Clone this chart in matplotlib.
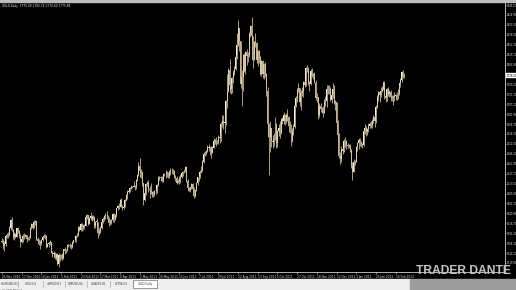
import matplotlib
matplotlib.use("Agg")
import matplotlib.pyplot as plt
from matplotlib.patches import Rectangle
import numpy as np

# ---------------- data (GOLD, Daily) ----------------
first_open = 1372
closes = (
    [1374, 1362, 1366, 1386] +
    [1389, 1388, 1406, 1424, 1401, 1384, 1391, 1384, 1404, 1398, 1386, 1370, 1378, 1385, 1385, 1387, 1379, 1380, 1381, 1405, 1415, 1406, 1421] +
    [1422, 1379, 1373, 1370, 1369, 1375, 1384, 1386, 1386, 1360, 1365, 1369, 1371, 1345, 1342, 1344, 1331, 1342, 1318, 1340, 1333] +
    [1339, 1331, 1353, 1348, 1350, 1364, 1364, 1362, 1360, 1372, 1375, 1375, 1386, 1388, 1407, 1400, 1416, 1408, 1410, 1411] +
    [1433, 1437, 1416, 1430, 1435, 1428, 1432, 1411, 1421, 1421, 1393, 1397, 1404, 1419, 1426, 1434, 1437, 1438, 1428, 1418, 1422, 1424, 1439] +
    [1428, 1437, 1453, 1458, 1457, 1474, 1459, 1454, 1457, 1473, 1486, 1493, 1496, 1503, 1504, 1504, 1507, 1505, 1522, 1535, 1556] +
    [1545, 1539, 1514, 1474, 1491, 1513, 1516, 1501, 1499, 1492, 1489, 1488, 1496, 1495, 1511, 1528, 1529, 1526, 1521, 1536, 1537, 1536] +
    [1539, 1533, 1542, 1544, 1544, 1543, 1530, 1528, 1516, 1521, 1528, 1530, 1539, 1542, 1547, 1553, 1521, 1502, 1497, 1504, 1512, 1500] +
    [1484, 1497, 1516, 1529, 1530, 1542, 1545, 1565, 1585, 1589, 1593, 1602, 1601, 1602, 1587, 1601, 1617, 1620, 1614, 1615, 1628] +
    [1625, 1660, 1667, 1662, 1662, 1716, 1740, 1790, 1755, 1745, 1770, 1785, 1793, 1823, 1852, 1892, 1862, 1757, 1773, 1827, 1789, 1835, 1826] +
    [1827, 1880, 1898, 1874, 1816, 1860, 1856, 1816, 1838, 1822, 1780, 1812, 1782, 1805, 1780, 1740, 1660, 1628, 1650, 1617, 1616, 1622] +
    [1658, 1612, 1642, 1650, 1636, 1672, 1665, 1680, 1667, 1682, 1675, 1653, 1655, 1618, 1642, 1652, 1702, 1722, 1742, 1746, 1712] +
    [1735, 1739, 1761, 1754, 1795, 1794, 1758, 1757, 1789, 1778, 1781, 1760, 1722, 1724, 1680, 1702, 1695, 1696, 1686, 1712, 1714, 1745] +
    [1744, 1744, 1718, 1730, 1745, 1711, 1713, 1662, 1633, 1580, 1573, 1597, 1594, 1617, 1618, 1607, 1606, 1604, 1595, 1556, 1541, 1566] +
    [1565, 1602, 1612, 1620, 1616, 1609, 1608, 1642, 1648, 1640, 1646, 1655, 1660, 1657, 1667, 1677, 1665, 1700, 1725, 1736, 1730, 1740] +
    [1745, 1760, 1726, 1722, 1745, 1732, 1738, 1725, 1722, 1724, 1728, 1728, 1725, 1735, 1758, 1766, 1786, 1775, 1776]
)
highs = (
    [1380, 1378, 1374, 1389] +
    [1394, 1395, 1409, 1427, 1432, 1403, 1396, 1394, 1406, 1407, 1400, 1390, 1382, 1390, 1392, 1391, 1388, 1382, 1386, 1408, 1418, 1417, 1424] +
    [1424, 1423, 1384, 1378, 1375, 1378, 1386, 1390, 1391, 1388, 1368, 1372, 1375, 1371, 1350, 1348, 1347, 1345, 1344, 1345, 1342] +
    [1342, 1343, 1355, 1358, 1353, 1366, 1367, 1368, 1365, 1374, 1377, 1378, 1389, 1392, 1411, 1410, 1418, 1417, 1414, 1415] +
    [1436, 1440, 1438, 1431, 1444, 1437, 1436, 1434, 1423, 1429, 1421, 1405, 1411, 1422, 1431, 1436, 1442, 1447, 1438, 1432, 1426, 1427, 1441] +
    [1442, 1440, 1455, 1462, 1465, 1476, 1478, 1462, 1460, 1475, 1487, 1497, 1499, 1506, 1510, 1507, 1519, 1510, 1525, 1537, 1565] +
    [1577, 1549, 1543, 1516, 1510, 1515, 1519, 1522, 1508, 1514, 1496, 1495, 1499, 1500, 1513, 1531, 1531, 1533, 1531, 1538, 1540, 1547] +
    [1544, 1542, 1547, 1552, 1551, 1549, 1546, 1535, 1531, 1525, 1531, 1536, 1542, 1545, 1549, 1555, 1557, 1525, 1506, 1505, 1514, 1516] +
    [1505, 1497, 1518, 1530, 1535, 1547, 1557, 1570, 1590, 1594, 1595, 1608, 1610, 1605, 1604, 1605, 1625, 1623, 1626, 1621, 1632] +
    [1640, 1664, 1682, 1682, 1683, 1718, 1782, 1795, 1817, 1760, 1774, 1790, 1800, 1830, 1880, 1913, 1894, 1862, 1790, 1830, 1832, 1838, 1841] +
    [1834, 1883, 1900, 1921, 1874, 1862, 1880, 1858, 1840, 1840, 1826, 1815, 1815, 1808, 1810, 1783, 1748, 1661, 1666, 1650, 1633, 1636] +
    [1676, 1661, 1645, 1660, 1666, 1674, 1677, 1688, 1683, 1686, 1695, 1678, 1665, 1658, 1648, 1660, 1705, 1726, 1747, 1760, 1746] +
    [1742, 1748, 1764, 1767, 1797, 1803, 1798, 1765, 1792, 1795, 1784, 1785, 1766, 1735, 1721, 1710, 1710, 1700, 1702, 1720, 1726, 1753] +
    [1754, 1753, 1750, 1733, 1760, 1755, 1717, 1713, 1669, 1638, 1590, 1604, 1604, 1622, 1627, 1619, 1613, 1610, 1609, 1598, 1565, 1574] +
    [1570, 1606, 1614, 1625, 1624, 1618, 1612, 1648, 1659, 1655, 1650, 1662, 1664, 1665, 1672, 1680, 1680, 1706, 1730, 1740, 1739, 1750] +
    [1752, 1764, 1763, 1727, 1747, 1750, 1743, 1742, 1730, 1729, 1737, 1732, 1738, 1744, 1760, 1770, 1788, 1790, 1783]
)
lows = (
    [1368, 1355, 1350, 1361] +
    [1380, 1381, 1385, 1404, 1398, 1379, 1377, 1380, 1383, 1392, 1381, 1360, 1368, 1372, 1378, 1382, 1372, 1377, 1375, 1380, 1402, 1403, 1405] +
    [1412, 1376, 1365, 1364, 1354, 1363, 1373, 1380, 1378, 1356, 1360, 1360, 1363, 1343, 1335, 1338, 1330, 1328, 1316, 1309, 1325] +
    [1329, 1327, 1330, 1342, 1343, 1348, 1358, 1357, 1355, 1356, 1368, 1371, 1371, 1382, 1386, 1397, 1398, 1399, 1401, 1403] +
    [1409, 1428, 1413, 1414, 1424, 1422, 1424, 1404, 1404, 1412, 1381, 1388, 1392, 1403, 1417, 1423, 1427, 1434, 1424, 1411, 1412, 1416, 1420] +
    [1420, 1425, 1432, 1449, 1451, 1456, 1456, 1450, 1451, 1456, 1471, 1475, 1490, 1493, 1500, 1502, 1505, 1499, 1501, 1519, 1532] +
    [1530, 1528, 1507, 1462, 1472, 1486, 1508, 1494, 1478, 1488, 1480, 1480, 1484, 1489, 1490, 1508, 1522, 1521, 1517, 1517, 1533, 1528] +
    [1529, 1526, 1528, 1535, 1537, 1536, 1527, 1521, 1512, 1514, 1513, 1516, 1526, 1531, 1540, 1542, 1518, 1496, 1495, 1493, 1500, 1496] +
    [1478, 1482, 1496, 1511, 1521, 1527, 1540, 1545, 1563, 1580, 1583, 1590, 1594, 1584, 1575, 1587, 1600, 1611, 1606, 1611, 1609] +
    [1612, 1618, 1651, 1647, 1637, 1656, 1699, 1736, 1735, 1731, 1734, 1758, 1778, 1791, 1818, 1850, 1838, 1746, 1702, 1740, 1785, 1780, 1802] +
    [1811, 1823, 1870, 1860, 1796, 1815, 1847, 1807, 1800, 1808, 1778, 1776, 1770, 1768, 1774, 1727, 1626, 1535, 1590, 1602, 1601, 1605] +
    [1620, 1601, 1602, 1630, 1625, 1635, 1658, 1660, 1656, 1662, 1666, 1640, 1638, 1604, 1614, 1633, 1650, 1700, 1712, 1736, 1702] +
    [1694, 1728, 1725, 1748, 1752, 1786, 1755, 1740, 1754, 1774, 1768, 1758, 1718, 1712, 1672, 1675, 1689, 1686, 1677, 1692, 1702, 1700] +
    [1731, 1732, 1716, 1709, 1722, 1708, 1692, 1652, 1629, 1575, 1562, 1567, 1585, 1590, 1603, 1598, 1600, 1600, 1590, 1552, 1523, 1541] +
    [1560, 1565, 1594, 1598, 1605, 1603, 1600, 1606, 1635, 1630, 1632, 1640, 1650, 1648, 1650, 1662, 1652, 1662, 1697, 1715, 1712, 1725] +
    [1737, 1741, 1720, 1712, 1714, 1727, 1725, 1715, 1714, 1706, 1715, 1717, 1717, 1720, 1730, 1750, 1761, 1771, 1770]
)
date_tick_bars = [0, 16, 32, 48, 64, 80, 96, 112, 128, 144, 160, 176, 192, 208,
                  224, 240, 256, 272, 288, 304, 320]
date_labels = ["25 Nov 2010", "17 Dec 2010", "10 Jan 2011", "1 Feb 2011", "23 Feb 2011",
               "17 Mar 2011", "8 Apr 2011", "2 May 2011", "24 May 2011", "15 Jun 2011",
               "7 Jul 2011", "29 Jul 2011", "22 Aug 2011", "13 Sep 2011", "5 Oct 2011",
               "27 Oct 2011", "18 Nov 2011", "12 Dec 2011", "3 Jan 2012", "25 Jan 2012",
               "16 Feb 2012"]
price_ticks = [1319.90, 1344.10, 1368.30, 1392.50, 1416.70, 1440.90, 1465.10, 1489.30,
               1513.50, 1537.70, 1561.90, 1586.10, 1610.30, 1634.50, 1658.70, 1682.90,
               1707.10, 1731.30, 1755.50, 1779.70, 1803.90, 1828.10, 1852.30, 1876.50,
               1900.70, 1924.90, 1949.10]
tab_names = ["#EURUSD,H1", "GOLD,H4", "#SP500,H1", "GBPUSD,H4", "#DAX30,H1", "#FTSE,H1", "GOLD,Daily"]
title_text = "GOLD,Daily  1775.09 1782.74 1770.40 1775.88"
watermark = "TRADER DANTE"

# ---------------- figure ----------------
W, H = 516, 290
fig = plt.figure(figsize=(W / 100, H / 100), dpi=100, facecolor="black")

def fx(px):
    return px / W

def fy(py):
    return 1 - py / H

ax = fig.add_axes([0, fy(272), fx(505), (272 - 3) / H])
ax.set_facecolor("black")

closes_a = np.array(closes, dtype=float)
highs_a = np.array(highs, dtype=float)
lows_a = np.array(lows, dtype=float)
opens_a = np.concatenate([[first_open], closes_a[:-1]])
x = np.arange(len(closes_a))

top = np.maximum(opens_a, closes_a)
bot = np.minimum(opens_a, closes_a)
hi = np.maximum(highs_a, top)
lo = np.minimum(lows_a, bot)
bull = closes_a >= opens_a

ax.vlines(x, lo, hi, colors="#d6c6a4", linewidth=0.55)
ax.bar(x[bull], np.maximum(top[bull] - bot[bull], 0.8), bottom=bot[bull], width=0.8,
       color="#f3efe3", linewidth=0)
ax.bar(x[~bull], np.maximum(top[~bull] - bot[~bull], 0.8), bottom=bot[~bull], width=0.8,
       color="#c9ad84", linewidth=0)

ax.set_xlim(-1.6, 409.0)
ax.set_ylim(1297.8, 1954.1)

for s in ["top", "left"]:
    ax.spines[s].set_visible(False)
ax.spines["right"].set_color("#d0d0d0")
ax.spines["bottom"].set_color("#d0d0d0")
ax.spines["right"].set_linewidth(0.6)
ax.spines["bottom"].set_linewidth(0.6)

ax.yaxis.tick_right()
ax.set_yticks(price_ticks)
ax.set_yticklabels([f"{v:.2f}" for v in price_ticks])
ax.tick_params(axis="y", colors="#e0e0e0", labelsize=1.8, length=0.8, width=0.4, pad=0.3)
ax.set_xticks(date_tick_bars)
ax.set_xticklabels(date_labels, ha="left")
ax.tick_params(axis="x", colors="#e0e0e0", labelsize=2.1, length=1.2, width=0.4, pad=0.8)

# current price marker on right axis
last = closes_a[-1]
ax.annotate(f"{last:.2f}", xy=(1.0, last), xycoords=("axes fraction", "data"),
            xytext=(0.9, 0), textcoords="offset points", fontsize=1.8, color="black",
            va="center", ha="left",
            bbox=dict(boxstyle="square,pad=0.2", fc="white", ec="white", lw=0.3),
            annotation_clip=False)

# title
fig.text(fx(2), fy(5.5), title_text, color="#e8e8e8", fontsize=2.1, va="center", ha="left")

# window top strip
fig.patches.append(Rectangle((0, fy(1.5)), 1, 1.5 / H, transform=fig.transFigure,
                             color="#bdbdbd", zorder=0))

# tab bar
fig.patches.append(Rectangle((0, 0), fx(410), (H - 279) / H, transform=fig.transFigure,
                             color="#eeeeee", zorder=1))
fig.patches.append(Rectangle((fx(410), 0), 1 - fx(410), (H - 279) / H, transform=fig.transFigure,
                             color="#9c9c9c", zorder=1))
tab_edges = [2, 18, 43, 65, 87, 110, 133, 157]
for i, name in enumerate(tab_names):
    x0, x1 = tab_edges[i], tab_edges[i + 1]
    active = (i == len(tab_names) - 1)
    if active:
        fig.patches.append(Rectangle((fx(x0), fy(287.5)), fx(x1 - x0), 7.5 / H,
                                     transform=fig.transFigure, fc="white", ec="#555555",
                                     lw=0.4, zorder=2))
    else:
        fig.add_artist(plt.Line2D([fx(x1), fx(x1)], [fy(286.5), fy(281)],
                                  transform=fig.transFigure, color="#9a9a9a", lw=0.4, zorder=2))
    fig.text(fx((x0 + x1) / 2), fy(283.8), name, fontsize=1.9, color="#333333",
             ha="center", va="center", zorder=3)
fig.text(fx(2), fy(289.3), "For Help, press F1", fontsize=1.6, color="#444444",
         ha="left", va="center", zorder=3)

# watermark
fig.text(fx(416), fy(271), watermark, fontsize=8.7, color="#c4c4c4", fontweight="bold",
         family=["Liberation Sans", "DejaVu Sans"], ha="left", va="center", zorder=5)

fig.savefig("out.png", dpi=100, facecolor="black")
